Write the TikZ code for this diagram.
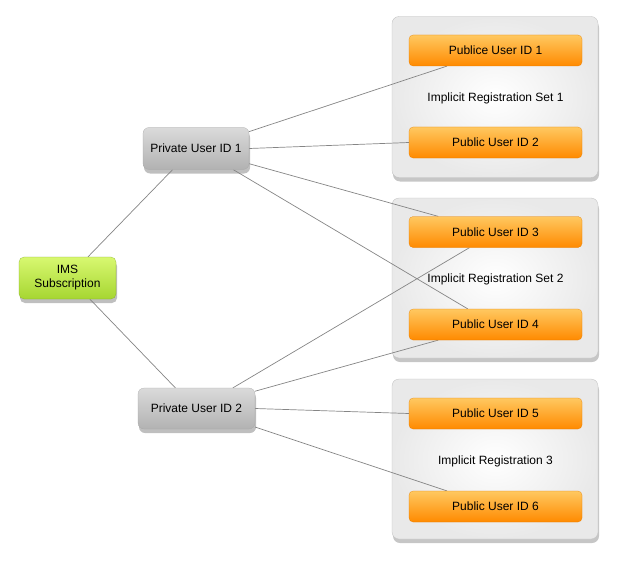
\documentclass[tikz,border=0pt]{standalone}
\usepackage{fontspec}
\setmainfont{Liberation Sans}
\usetikzlibrary{calc,shadows}
\pgfdeclarelayer{bg}
\pgfdeclarelayer{mid}
\pgfsetlayers{bg,mid,main}
\definecolor{orTop}{HTML}{FFC860}
\definecolor{orBot}{HTML}{FF8A00}
\definecolor{grTop}{HTML}{D8F870}
\definecolor{grBot}{HTML}{A6D631}
\definecolor{gyTop}{HTML}{DADADA}
\definecolor{gyBot}{HTML}{B2B2B2}
\definecolor{boxOut}{HTML}{E9E9E9}
\definecolor{lineC}{HTML}{858585}
\tikzset{
  every node/.style={font=\fontsize{12}{14}\selectfont, text=black},
  pubid/.style={rectangle, rounded corners=4pt, minimum width=173pt, minimum height=31pt, inner sep=0pt,
    top color=orTop, bottom color=orBot, draw=orBot!90!black, line width=0.2pt},
  privid/.style={rectangle, rounded corners=6pt, minimum height=42pt, inner sep=0pt,
    top color=gyTop, bottom color=gyBot, draw=gray!70, line width=0.2pt,
    drop shadow={shadow xshift=1pt, shadow yshift=-4pt, opacity=0.5}},
  imsbox/.style={rectangle, rounded corners=5pt, minimum width=97pt, minimum height=42pt, inner sep=0pt,
    top color=grTop, bottom color=grBot, draw=grBot!80!black, line width=0.2pt, align=center,
    drop shadow={shadow xshift=1pt, shadow yshift=-4pt, opacity=0.5}},
  setbox/.style={rectangle, rounded corners=7pt, minimum width=206pt, minimum height=161pt, inner sep=0pt,
    shading=radial, inner color=white, outer color=boxOut, draw=gray!50, line width=0.3pt,
    drop shadow={shadow xshift=1pt, shadow yshift=-4pt, opacity=0.45}},
  conn/.style={draw=lineC, line width=0.7pt}
}
\begin{document}
\begin{tikzpicture}[x=1pt,y=-1pt]
\useasboundingbox (0,0) rectangle (617,564);
\begin{pgfonlayer}{bg}
  \node[setbox] (set1) at (495,97) {};
  \node[setbox, minimum height=160pt] (set2) at (495,278) {};
  \node[setbox, minimum height=160pt] (set3) at (495,459) {};
\end{pgfonlayer}
\node (lab1) at (495.5,98) {Implicit Registration Set 1};
\node (lab2) at (495.5,279) {Implicit Registration Set 2};
\node (lab3) at (495.5,461) {Implicit Registration 3};
\node[pubid] (id1) at (495.5,50.5) {Publice User ID 1};
\node[pubid] (id2) at (495.5,142.5) {Public User ID 2};
\node[pubid] (id3) at (495.5,232) {Public User ID 3};
\node[pubid] (id4) at (495.5,324.5) {Public User ID 4};
\node[pubid] (id5) at (495.5,413.5) {Public User ID 5};
\node[pubid] (id6) at (495.5,506.5) {Public User ID 6};
\node[privid, minimum width=106pt] (p1) at (196,148.5) {Private User ID 1};
\node[privid, minimum width=117pt, minimum height=41pt] (p2) at (196.5,408.5) {Private User ID 2};
\node[imsbox] (ims) at (67.5,278) {IMS\\Subscription};
\begin{pgfonlayer}{mid}
  \draw[conn] ($(ims.north west)!0.71!(ims.north east)$) -- ($(p1.south west)!0.28!(p1.south east)$);
  \draw[conn] ($(ims.south west)!0.73!(ims.south east)$) -- ($(p2.north west)!0.32!(p2.north east)$);
  \draw[conn] ($(p1.north east)!0.1!(p1.south east)$) -- ($(id1.south west)!0.22!(id1.south east)$);
  \draw[conn] (p1.east) -- (id2.west);
  \draw[conn] ($(p1.north east)!0.86!(p1.south east)$) -- ($(id3.north west)!0.17!(id3.north east)$);
  \draw[conn] ($(p1.south west)!0.85!(p1.south east)$) -- ($(id4.north west)!0.34!(id4.north east)$);
  \draw[conn] ($(p2.north west)!0.81!(p2.north east)$) -- ($(id3.south west)!0.35!(id3.south east)$);
  \draw[conn] ($(p2.north east)!0.08!(p2.south east)$) -- ($(id4.south west)!0.17!(id4.south east)$);
  \draw[conn] (p2.east) -- (id5.west);
  \draw[conn] ($(p2.north east)!0.95!(p2.south east)$) -- ($(id6.north west)!0.22!(id6.north east)$);
\end{pgfonlayer}
\end{tikzpicture}
\end{document}
